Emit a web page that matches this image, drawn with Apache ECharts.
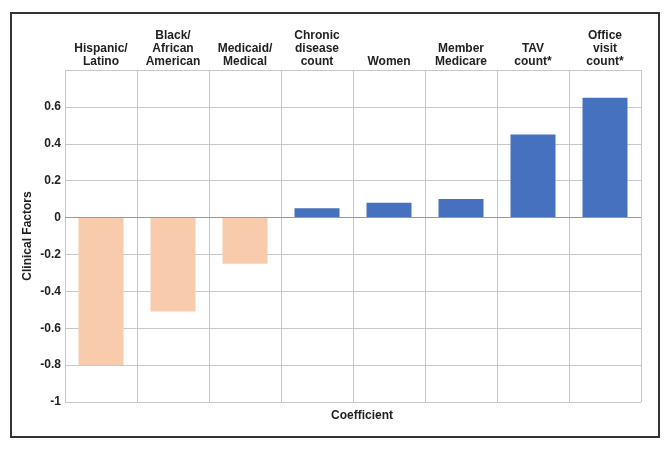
<!DOCTYPE html>
<html><head><meta charset="utf-8">
<script src="https://cdn.jsdelivr.net/npm/echarts@6/dist/echarts.min.js"></script>
<style>html,body{margin:0;padding:0;background:#fff}#c{width:672px;height:449px}</style>
</head><body><div id="c"></div>
<script>
const categories = ['Hispanic/\nLatino','Black/\nAfrican\nAmerican','Medicaid/\nMedical','Chronic\ndisease\ncount','Women','Member\nMedicare','TAV\ncount*','Office\nvisit\ncount*'];
const values = [-0.8, -0.51, -0.25, 0.05, 0.08, 0.10, 0.45, 0.65];
const yTicks = [-1, -0.8, -0.6, -0.4, -0.2, 0, 0.2, 0.4, 0.6];
const FONT = '"Liberation Sans", Arial, sans-serif';
const chart = echarts.init(document.getElementById('c'));
chart.setOption({
  animation: false,
  backgroundColor: '#fff',
  graphic: [{type:'rect', shape:{x:11,y:13,width:648,height:424}, style:{fill:'none', stroke:'#333', lineWidth:2}, z:-1}],
  title: {text:'Coefficient', left: 357, top: 405, textAlign:'center', textStyle:{fontFamily:FONT, fontSize:12, fontWeight:'bold', color:'#222'}},
  grid: {left:65, right:31, top:70, bottom:47},
  xAxis: {
    type:'category', position:'top', data: categories,
    axisLine:{show:false}, axisTick:{show:false},
    axisLabel:{interval:0, margin:2, fontFamily:FONT, fontSize:12, fontWeight:'bold', color:'#222', lineHeight:13},
    splitLine:{show:true, interval:0, lineStyle:{color:'#c8c8c8', width:1}}
  },
  yAxis: {
    type:'value', min:-1, max:0.8, interval:0.2,
    name:'Clinical Factors', nameLocation:'middle', nameGap:31, nameRotate:90, nameMoveOverlap:false,
    nameTextStyle:{fontFamily:FONT, fontSize:12, fontWeight:'bold', color:'#222'},
    axisLine:{show:false}, axisTick:{show:false},
    axisLabel:{margin:4, fontFamily:FONT, fontSize:12, fontWeight:'bold', color:'#222',
      formatter: v => { const r = Math.round(v*10)/10; return yTicks.some(t => Math.abs(t-r)<1e-9) ? String(r) : ''; }},
    splitLine:{show:true, lineStyle:{color:'#c8c8c8', width:1}}
  },
  series: [{
    type:'bar', data: values.map(v => ({value:v, itemStyle:{color: v<0 ? '#F8CBAD' : '#4671BF'}})),
    barWidth:45,
    markLine:{silent:true, symbol:'none', label:{show:false}, lineStyle:{color:'#999', type:'solid', width:1}, data:[{yAxis:0}]}
  }]
});
</script></body></html>
